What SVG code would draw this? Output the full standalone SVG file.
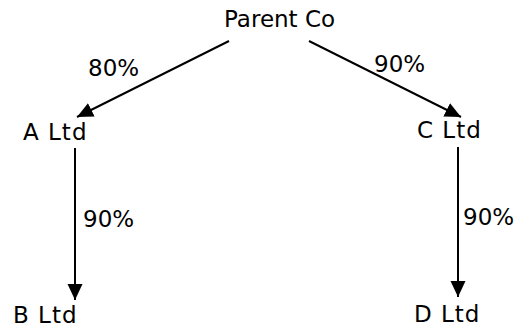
<svg xmlns="http://www.w3.org/2000/svg" width="518" height="329" viewBox="0 0 518 329">
  <style>
    .lbl { font-family: "DejaVu Sans", "Liberation Sans", sans-serif; font-size: 23px; fill: #000; }
    .co { letter-spacing: 1px; }
    .edge { stroke: #000; stroke-width: 2; fill: none; marker-end: url(#arrow); }
  </style>
  <defs>
    <marker id="arrow" markerUnits="userSpaceOnUse" markerWidth="17" markerHeight="16" refX="16" refY="7.5" orient="auto">
      <path d="M0,0 L16,7.5 L0,15 z" fill="#000"/>
    </marker>
  </defs>
  <rect width="518" height="329" fill="#fff"/>

  <g id="connectors">
    <line class="edge" x1="229" y1="41" x2="77" y2="117"/>
    <line class="edge" x1="309" y1="41" x2="461" y2="117"/>
    <line class="edge" x1="75" y1="148" x2="75" y2="300"/>
    <line class="edge" x1="458" y1="147" x2="458" y2="297"/>
    <text class="lbl" x="88" y="76">80%</text>
    <text class="lbl" x="374" y="72">90%</text>
    <text class="lbl" x="83" y="227">90%</text>
    <text class="lbl" x="463" y="225">90%</text>
  </g>

  <g id="parent-co">
    <text class="lbl" x="224" y="27">Parent Co</text>
  </g>
  <g id="a-ltd">
    <text class="lbl co" x="23" y="140">A Ltd</text>
  </g>
  <g id="c-ltd">
    <text class="lbl co" x="417" y="138">C Ltd</text>
  </g>
  <g id="b-ltd">
    <text class="lbl co" x="13" y="323">B Ltd</text>
  </g>
  <g id="d-ltd">
    <text class="lbl co" x="414" y="322">D Ltd</text>
  </g>
</svg>
